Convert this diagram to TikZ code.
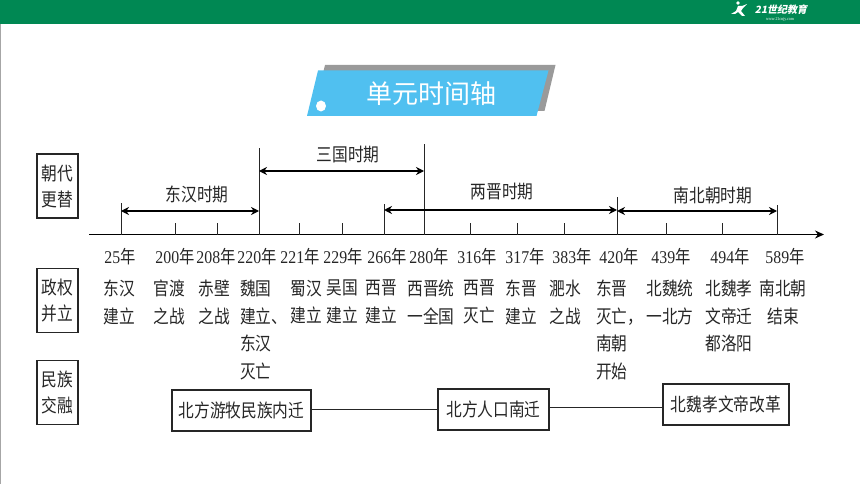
\documentclass[tikz,border=0pt]{standalone}
\usepackage{fontspec}
\setmainfont[FakeStretch=0.88]{Liberation Serif}
\newfontfamily\cjk[FakeStretch=0.85]{Noto Sans CJK SC}
\newfontfamily\cjkwide{Noto Sans CJK SC}
\newfontfamily\cjkslant[FakeSlant=0.2]{Noto Sans CJK SC}
\usetikzlibrary{calc,arrows.meta}
\definecolor{headgreen}{HTML}{008853}
\definecolor{bannerblue}{HTML}{50C0F0}
\definecolor{bannergrey}{HTML}{9A9A9A}
\definecolor{inkgrey}{HTML}{262626}
\tikzset{
	every node/.style={text=inkgrey},
	tagbox/.style={draw=inkgrey, line width=1.1pt, minimum width=41pt, minimum height=64pt, inner sep=0pt, align=center, font=\cjk\fontsize{18.5}{26}\selectfont},
	flowbox/.style={draw=inkgrey, line width=1.2pt, minimum height=41pt, inner sep=0pt, font=\cjk\fontsize{18.5}{20}\selectfont},
	period/.style={font=\cjk\fontsize{18.5}{20}\selectfont},
	year/.style={font=\fontsize{18}{20}\selectfont, inner sep=0pt},
	event/.style={font=\cjk\fontsize{18.5}{27.5}\selectfont, inner sep=0pt, align=center, anchor=north},
	eventleft/.style={event, align=left, anchor=north west},
	tick/.style={draw=inkgrey, line width=1pt},
	span/.style={{Stealth[length=8pt,width=8pt]}-{Stealth[length=8pt,width=8pt]}, draw=black, line width=1.4pt},
}
\begin{document}
\begin{tikzpicture}[x=1pt, y=-1pt, >=stealth]
	\useasboundingbox (0,0) rectangle (860,484);
	
	% top strip
	\fill [headgreen] (0,0) rectangle (860,24);
	\fill [gray!70] (0,24) rectangle (1,484);
	\fill [white] (738,3) circle (1.8) (731,14) -- (736,11) -- (738,6) -- (742,6) -- (747,4) -- (743,8) -- (741,11) -- (745,16) -- (742,16) -- (738,12) -- (735,14) -- cycle;
	\node [text=white, inner sep=0pt, font=\cjkslant\bfseries\fontsize{10}{12}\selectfont] (logo-name) at (781,10) {21世纪教育};
	\node [text=white, inner sep=0pt, font=\fontsize{4.5}{5}\selectfont] (logo-site) at (780,19) {www.21cnjy.com};
	
	% banner
	\fill [bannergrey] (325,65) -- (555.5,65) -- (544.5,111) -- (314,111) -- cycle;
	\fill [bannerblue] (318,70.5) -- (548.5,70.5) -- (536.5,116) -- (307,116) -- cycle;
	\fill [white] (321,106) ellipse (5 and 5.5);
	\node [text=white, font=\cjkwide\fontsize{26}{30}\selectfont] (banner) at (431,94) {单元时间轴};
	
	% row tags
	\node [tagbox] (tag-1) at (57.5,186) {朝代\\更替};
	\node [tagbox] (tag-2) at (57.5,300.5) {政权\\并立};
	\node [tagbox] (tag-3) at (57.5,392.5) {民族\\交融};
	
	% time axis
	\coordinate (axis-start) at (89,234.5);
	\coordinate (axis-end) at (824,234.5);
	\draw [-{Stealth[length=9pt,width=8pt]}, line width=1.3pt, black] (axis-start) -- (axis-end);
	
	\foreach \x/\h [count=\i] in {121/203,175/223,217/223,259/148,299/223,342/223,384/204,424/144,470/223,517/223,564/223,617/197,666/223,722/223,777/205}
	{
		\coordinate (foot-\i) at (\x,234.5);
		\coordinate (head-\i) at (\x,\h);
		\draw [tick] (foot-\i) -- (head-\i);
	}
	
	\foreach \x/\y [count=\i] in {120/25,175/200,216/208,257/220,300/221,343/229,387/266,429/280,477/316,525/317,572/383,619/420,671/439,730/494,785/589}
	\node [year] (year-\i) at (\x,257) {\y{\cjk 年}};
	
	% periods
	\coordinate (east-a) at (121,211);
	\coordinate (east-b) at (259,211);
	\coordinate (three-a) at (259,171);
	\coordinate (three-b) at (424,171);
	\coordinate (jin-a) at (384,210);
	\coordinate (jin-b) at (617,210);
	\coordinate (south-a) at (617,211);
	\coordinate (south-b) at (777,211);
	\draw [span] (east-a) -- (east-b);
	\draw [span] (three-a) -- (three-b);
	\draw [span] (jin-a) -- (jin-b);
	\draw [span] (south-a) -- (south-b);
	\node [period] (east-label) at (197,194) {东汉时期};
	\node [period] (three-label) at (348,155) {三国时期};
	\node [period] (jin-label) at (502,192) {两晋时期};
	\node [period] (south-label) at (713,195) {南北朝时期};
	
	% events
	\foreach \x/\t [count=\i] in {119/{东汉\\建立},169/{官渡\\之战},214/{赤壁\\之战},306/{蜀汉\\建立},342/{吴国\\建立},381/{西晋\\建立},431/{西晋统\\一全国},479/{西晋\\灭亡},521/{东晋\\建立},565/{淝水\\之战},670/{北魏统\\一北方},729/{北魏孝\\文帝迁\\都洛阳},783/{南北朝\\结束}}
	\node [event] (event-\i) at (\x,280) {\t};
	\node [eventleft] (event-wei) at (240,280) {魏国\\建立、\\东汉\\灭亡};
	\node [eventleft] (event-jin) at (596,280) {东晋\\灭亡，\\南朝\\开始};
	
	% bottom row
	\node [flowbox, minimum width=139pt] (nomads) at (241.5,410.5) {北方游牧民族内迁};
	\node [flowbox, minimum width=111pt] (migrate) at (493.5,409.5) {北方人口南迁};
	\node [flowbox, minimum width=126pt] (reform) at (726,404.5) {北魏孝文帝改革};
	\coordinate (link-a) at (375,409.5);
	\coordinate (link-b) at (600,407.5);
	\draw [line width=1.3pt, inkgrey] (link-a -| nomads.east) -- (link-a -| migrate.west);
	\draw [line width=1.3pt, inkgrey] (link-b -| migrate.east) -- (link-b -| reform.west);
	
\end{tikzpicture}
\end{document}
